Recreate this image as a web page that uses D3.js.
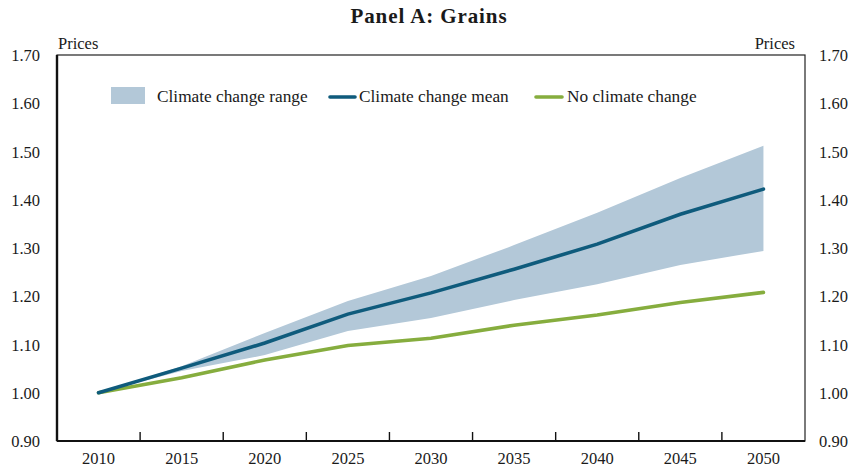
<!DOCTYPE html>
<html>
<head>
<meta charset="utf-8">
<script src="https://cdn.jsdelivr.net/npm/d3@7"></script>
<style>
  body { margin: 0; background: #fff; }
  text { font-family: "Liberation Serif", "DejaVu Serif", serif; fill: #1a1a1a; }
</style>
</head>
<body>
<div id="chart"></div>
<script>
// data
var years = ["2010", "2015", "2020", "2025", "2030", "2035", "2040", "2045", "2050"];
var ccMean = [1.000, 1.051, 1.103, 1.163, 1.207, 1.256, 1.308, 1.370, 1.422];
var ccHigh = [1.000, 1.055, 1.124, 1.190, 1.242, 1.306, 1.373, 1.445, 1.512];
var ccLow  = [1.000, 1.045, 1.078, 1.128, 1.155, 1.192, 1.225, 1.265, 1.294];
var noCC   = [1.000, 1.031, 1.068, 1.098, 1.113, 1.140, 1.161, 1.187, 1.208];
var yTicks = [0.90, 1.00, 1.10, 1.20, 1.30, 1.40, 1.50, 1.60, 1.70];

var width = 858, height = 470;
var margin = {top: 55, right: 53, bottom: 29, left: 57};
var w = width - margin.left - margin.right;
var h = height - margin.top - margin.bottom;

var svg = d3.select("#chart").append("svg")
    .attr("width", width)
    .attr("height", height);

var g = svg.append("g")
    .attr("transform", "translate(" + margin.left + "," + margin.top + ")");

var x = d3.scaleBand().domain(years).range([0, w]);
var y = d3.scaleLinear().domain([0.9, 1.7]).range([h, 0]);
var cx = function(i){ return x(years[i]) + x.bandwidth() / 2; };

// range band
var area = d3.area()
    .x(function(d, i){ return cx(i); })
    .y0(function(d, i){ return y(ccLow[i]); })
    .y1(function(d, i){ return y(ccHigh[i]); });

g.append("path")
    .datum(years)
    .attr("d", area)
    .style("fill", "#b3c8d8");

var line = d3.line()
    .x(function(d, i){ return cx(i); })
    .y(function(d){ return y(d); });

g.append("path")
    .datum(noCC)
    .attr("d", line)
    .style("fill", "none")
    .style("stroke", "#86ad3e")
    .style("stroke-width", 3.6)
    .style("stroke-linecap", "round");

g.append("path")
    .datum(ccMean)
    .attr("d", line)
    .style("fill", "none")
    .style("stroke", "#0f5b7c")
    .style("stroke-width", 3.6)
    .style("stroke-linecap", "round");

// frame
g.append("rect")
    .attr("width", w)
    .attr("height", h)
    .style("fill", "none")
    .style("stroke", "#222")
    .style("stroke-width", 1.2);
g.append("line")
    .attr("x1", 0).attr("x2", 0).attr("y1", 0).attr("y2", h)
    .style("stroke", "#111").style("stroke-width", 2.4);
g.append("line")
    .attr("x1", 0).attr("x2", w).attr("y1", h).attr("y2", h)
    .style("stroke", "#111").style("stroke-width", 2.2);

// x ticks between bands, pointing up
g.selectAll(".xtick")
    .data(years.slice(1))
    .enter().append("line")
    .attr("class", "xtick")
    .attr("x1", function(d){ return x(d); })
    .attr("x2", function(d){ return x(d); })
    .attr("y1", h)
    .attr("y2", h - 9)
    .style("stroke", "#111")
    .style("stroke-width", 1.4);

g.selectAll(".xlab")
    .data(years)
    .enter().append("text")
    .attr("class", "xlab")
    .attr("x", function(d){ return x(d) + x.bandwidth() / 2; })
    .attr("y", h + 23)
    .attr("text-anchor", "middle")
    .style("font-size", "16.5px")
    .text(function(d){ return d; });

// y labels both sides
g.selectAll(".ylabL")
    .data(yTicks)
    .enter().append("text")
    .attr("x", -17)
    .attr("y", function(d){ return y(d) + 6; })
    .attr("text-anchor", "end")
    .style("font-size", "16.5px")
    .text(function(d){ return d.toFixed(2); });

g.selectAll(".ylabR")
    .data(yTicks)
    .enter().append("text")
    .attr("x", w + 14)
    .attr("y", function(d){ return y(d) + 6; })
    .attr("text-anchor", "start")
    .style("font-size", "16.5px")
    .text(function(d){ return d.toFixed(2); });

g.append("text")
    .attr("x", 1).attr("y", -6)
    .style("font-size", "16.5px")
    .text("Prices");
g.append("text")
    .attr("x", w - 10).attr("y", -6)
    .attr("text-anchor", "end")
    .style("font-size", "16.5px")
    .text("Prices");

// title
svg.append("text")
    .attr("x", width / 2)
    .attr("y", 23)
    .attr("text-anchor", "middle")
    .style("font-size", "21px")
    .style("letter-spacing", "0.9px")
    .style("font-weight", "bold")
    .text("Panel A: Grains");

// legend
var leg = svg.append("g");
leg.append("rect")
    .attr("x", 111).attr("y", 87)
    .attr("width", 34).attr("height", 17)
    .style("fill", "#b3c8d8");
leg.append("text")
    .attr("x", 157).attr("y", 102)
    .style("font-size", "17.3px")
    .text("Climate change range");
leg.append("line")
    .attr("x1", 330).attr("x2", 355).attr("y1", 97).attr("y2", 97)
    .style("stroke", "#0f5b7c").style("stroke-width", 3.6).style("stroke-linecap", "round");
leg.append("text")
    .attr("x", 359).attr("y", 102)
    .style("font-size", "17.3px")
    .text("Climate change mean");
leg.append("line")
    .attr("x1", 536).attr("x2", 562).attr("y1", 97).attr("y2", 97)
    .style("stroke", "#86ad3e").style("stroke-width", 3.6).style("stroke-linecap", "round");
leg.append("text")
    .attr("x", 567).attr("y", 102)
    .style("font-size", "17.3px")
    .text("No climate change");
</script>
</body>
</html>
